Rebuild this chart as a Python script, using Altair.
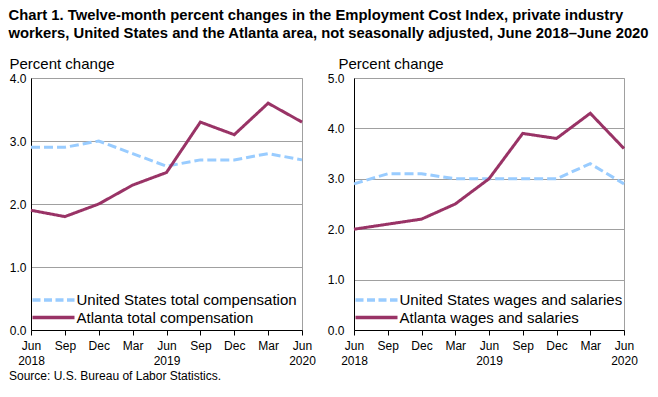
import altair as alt
import pandas as pd

FONT = "Liberation Sans"

periods = ["Jun 2018", "Sep 2018", "Dec 2018", "Mar 2019", "Jun 2019",
           "Sep 2019", "Dec 2019", "Mar 2020", "Jun 2020"]

us_total = [2.9, 2.9, 3.0, 2.8, 2.6, 2.7, 2.7, 2.8, 2.7]
atl_total = [1.9, 1.8, 2.0, 2.3, 2.5, 3.3, 3.1, 3.6, 3.3]
us_wages = [2.9, 3.1, 3.1, 3.0, 3.0, 3.0, 3.0, 3.3, 2.9]
atl_wages = [2.0, 2.1, 2.2, 2.5, 3.0, 3.9, 3.8, 4.3, 3.6]

left_series = ["United States total compensation", "Atlanta total compensation"]
right_series = ["United States wages and salaries", "Atlanta wages and salaries"]

left_ticks = [0, 1, 2, 3, 4]
right_ticks = [0, 1, 2, 3, 4, 5]

title_lines = [
    "Chart 1. Twelve-month percent changes in the Employment Cost Index, private industry",
    "workers, United States and the Atlanta area, not seasonally adjusted, June 2018\u2013June 2020",
]
source_text = "Source: U.S. Bureau of Labor Statistics."

COLORS = ["#99CCFF", "#993366"]
DASHES = [[9, 4], [1, 0]]
GRID = "#A0A0A0"


def legend_entry(name, color, dash, row_y):
    src = pd.DataFrame({"series": [name]})
    sym = alt.Chart(src).mark_rule(strokeWidth=3.5, strokeDash=dash, color=color).encode(
        x=alt.value(1.5), x2=alt.value(43.5), y=alt.value(row_y)
    )
    lab = alt.Chart(src).mark_text(align="left", baseline="middle", fontSize=15,
                                   font=FONT, color="black").encode(
        x=alt.value(45.5), y=alt.value(row_y), text="series:N"
    )
    return [sym, lab]


def panel(us, atl, names, ticks, width, height, title_x, title_y, label_pad, rows):
    df = pd.DataFrame({
        "period": periods * 2,
        "value": us + atl,
        "series": [names[0]] * len(periods) + [names[1]] * len(periods),
    })
    x = alt.X(
        "period:O", sort=periods,
        scale=alt.Scale(type="point", padding=0),
        axis=alt.Axis(
            title=None, labelAngle=0, grid=False,
            labelExpr="slice(datum.value,0,3)=='Jun' ? split(datum.value,' ') : slice(datum.value,0,3)",
            labelFontSize=12, labelFont=FONT, labelColor="black", labelPadding=5,
            labelLineHeight=15.5, tickSize=5, tickColor="black", domainColor="black",
            labelOverlap=False,
        ),
    )
    y = alt.Y(
        "value:Q",
        scale=alt.Scale(domain=[ticks[0], ticks[-1]], nice=False),
        axis=alt.Axis(
            values=ticks, format=".1f", title="Percent change", titleAngle=0,
            titleAlign="left", titleBaseline="alphabetic", titleX=title_x, titleY=title_y,
            titleFontSize=15, titleFont=FONT, titleFontWeight="normal", titleColor="black",
            grid=True, gridColor=GRID, ticks=False, domainColor="black",
            labelFontSize=12, labelFont=FONT, labelColor="black", labelPadding=label_pad,
        ),
    )
    color = alt.Color("series:N", sort=names,
                      scale=alt.Scale(domain=names, range=COLORS), legend=None)
    dash = alt.StrokeDash("series:N", sort=names,
                          scale=alt.Scale(domain=names, range=DASHES), legend=None)
    lines = alt.Chart(df).mark_line(strokeWidth=3).encode(
        x=x, y=y, color=color, strokeDash=dash
    )
    layers = [lines]
    layers += legend_entry(names[0], COLORS[0], [8, 3.5], rows[0])
    layers += legend_entry(names[1], COLORS[1], [1, 0], rows[1])
    return alt.layer(*layers).properties(width=width, height=height)


left = panel(us_total, atl_total, left_series, left_ticks, 271, 252, -22, -9.5, 5,
             [222, 239.5]).properties(
    title=alt.TitleParams(text=source_text, orient="bottom", anchor="start", fontSize=12,
                          fontWeight="normal", font=FONT, color="black", offset=4)
)
right = panel(us_wages, atl_wages, right_series, right_ticks, 270, 252, -16, -9.5, 10,
              [222, 239.5])

chart = alt.hconcat(left, right, spacing=10).resolve_scale(
    color="independent", strokeDash="independent", y="independent"
).properties(
    title=alt.TitleParams(text=title_lines, anchor="start", fontSize=14.8, fontWeight="bold",
                          font=FONT, color="black", lineHeight=18, offset=15),
    padding=0,
).configure_view(stroke=GRID, strokeWidth=1)

chart.save("out.html", embed_options={"renderer": "svg", "actions": False})
